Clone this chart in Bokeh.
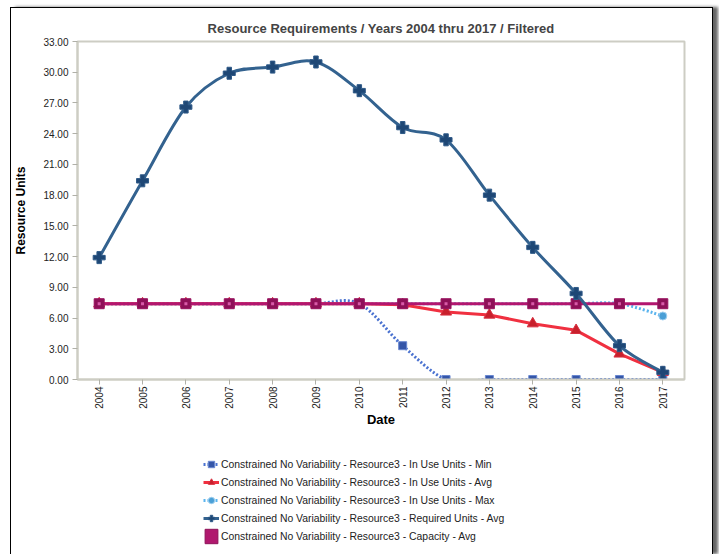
import math
from bokeh.plotting import figure
from bokeh.layouts import column
from bokeh.models import Range1d, FixedTicker, Legend, LegendItem
from bokeh.embed import file_html
from bokeh.resources import INLINE

years = [2004, 2005, 2006, 2007, 2008, 2009, 2010, 2011, 2012, 2013, 2014, 2015, 2016, 2017]
in_use_min = [7.4, 7.4, 7.4, 7.4, 7.4, 7.4, 7.4, 3.3, 0.0, 0.0, 0.0, 0.0, 0.0, 0.0]
in_use_avg = [7.4, 7.4, 7.4, 7.4, 7.4, 7.4, 7.4, 7.3, 6.6, 6.3, 5.45, 4.8, 2.5, 0.7]
in_use_max = [7.4, 7.4, 7.4, 7.4, 7.4, 7.4, 7.4, 7.4, 7.4, 7.4, 7.4, 7.4, 7.4, 6.2]
required_avg = [11.9, 19.4, 26.6, 29.9, 30.5, 31.0, 28.2, 24.6, 23.4, 18.0, 12.9, 8.4, 3.3, 0.7]
capacity_avg = [7.4] * 14

y_ticks = [0, 3, 6, 9, 12, 15, 18, 21, 24, 27, 30, 33]
y_tick_labels = ["0.00", "3.00", "6.00", "9.00", "12.00", "15.00", "18.00",
                 "21.00", "24.00", "27.00", "30.00", "33.00"]
x_tick_labels = [str(y) for y in years]

names = [
    "Constrained No Variability - Resource3 - In Use Units - Min",
    "Constrained No Variability - Resource3 - In Use Units - Avg",
    "Constrained No Variability - Resource3 - In Use Units - Max",
    "Constrained No Variability - Resource3 - Required Units - Avg",
    "Constrained No Variability - Resource3 - Capacity - Avg",
]
title_text = "Resource Requirements / Years 2004 thru 2017 / Filtered"

FONT = "Liberation Sans"
GRID = "#CDCDC4"

STYLE = {
    "min": dict(line=dict(line_color="#4A72D0", line_width=3, line_dash="2 2"),
                pts=dict(marker="square", size=8, fill_color="#3556A8", line_color="#6A88D0", line_width=1)),
    "max": dict(line=dict(line_color="#5AB4EE", line_width=3, line_dash="2 2"),
                pts=dict(marker="circle", size=8, fill_color="#4A9FD6", line_color="#9FD0F0", line_width=1)),
    "avg": dict(line=dict(line_color="#F03040", line_width=3),
                pts=dict(marker="triangle", size=11, fill_color="#C8202C", line_color="#D83040", line_width=1)),
    "cap": dict(line=dict(line_color="#B3166F", line_width=3),
                pts=dict(marker="square", size=10, fill_color="#8E1058", line_color="#9A1460", line_width=1)),
    "req": dict(line=dict(line_color="#33628F", line_width=3),
                pts=dict(marker="plus", size=12, fill_color="#1E4775", line_color="#2F5A88", line_width=1)),
}


def cardinal(xs, ys):
    """Bezier control points of a cardinal (Catmull-Rom) spline through the points."""
    n = len(xs)
    x0, y0, x1, y1, cx0, cy0, cx1, cy1 = [], [], [], [], [], [], [], []
    for i in range(n - 1):
        a = max(i - 1, 0)
        d = min(i + 2, n - 1)
        x0.append(xs[i]); y0.append(ys[i])
        x1.append(xs[i + 1]); y1.append(ys[i + 1])
        cx0.append(xs[i] + (xs[i + 1] - xs[a]) / 6.0)
        cy0.append(ys[i] + (ys[i + 1] - ys[a]) / 6.0)
        cx1.append(xs[i + 1] - (xs[d] - xs[i]) / 6.0)
        cy1.append(ys[i + 1] - (ys[d] - ys[i]) / 6.0)
    return dict(x0=x0, y0=y0, x1=x1, y1=y1, cx0=cx0, cy0=cy0, cx1=cx1, cy1=cy1)


def draw_series(fig):
    r = {}
    r["min"] = [fig.bezier(**cardinal(years, in_use_min), **STYLE["min"]["line"]),
                fig.scatter(years, in_use_min, **STYLE["min"]["pts"])]
    r["max"] = [fig.bezier(**cardinal(years, in_use_max), **STYLE["max"]["line"]),
                fig.scatter(years, in_use_max, **STYLE["max"]["pts"])]
    r["avg"] = [fig.line(years, in_use_avg, **STYLE["avg"]["line"]),
                fig.scatter(years, in_use_avg, **STYLE["avg"]["pts"])]
    r["cap"] = [fig.line(years, capacity_avg, **STYLE["cap"]["line"]),
                fig.scatter(years, capacity_avg, **STYLE["cap"]["pts"]),
                fig.scatter(years, capacity_avg, marker="square", size=3,
                            fill_color="#D85AA8", line_color=None)]
    r["req"] = [fig.bezier(**cardinal(years, required_avg), **STYLE["req"]["line"]),
                fig.scatter(years, required_avg, **STYLE["req"]["pts"])]
    return r


# ---------------- main chart ----------------
p = figure(width=701, height=421, output_backend="svg", toolbar_location=None,
           x_range=Range1d(2003.5, 2017.5), y_range=Range1d(0, 33),
           min_border_left=66, min_border_right=28, min_border_top=33, min_border_bottom=50)

p.title.text = title_text
p.title.align = "center"
p.title.text_font = FONT
p.title.text_font_size = "13px"
p.title.text_font_style = "bold"
p.title.standoff = 12

p.xgrid.visible = False
p.ygrid.visible = False
p.outline_line_color = GRID
p.outline_line_width = 2

for ax in (p.xaxis[0], p.yaxis[0]):
    ax.axis_line_color = GRID
    ax.axis_line_width = 2
    ax.major_tick_line_color = "#B0B0A8"
    ax.major_tick_out = 5
    ax.major_tick_in = 0
    ax.minor_tick_line_color = None
    ax.major_label_text_font = FONT
    ax.major_label_text_font_size = "10px"
    ax.major_label_text_color = "#222222"
    ax.axis_label_text_font = FONT
    ax.axis_label_text_font_style = "bold"
    ax.axis_label_text_color = "#000000"

p.yaxis[0].ticker = FixedTicker(ticks=y_ticks)
p.yaxis[0].major_label_overrides = dict(zip(y_ticks, y_tick_labels))
p.yaxis[0].major_label_standoff = 4
p.yaxis[0].axis_label = "Resource Units"
p.yaxis[0].axis_label_text_font_size = "12px"
p.yaxis[0].axis_label_standoff = 12

p.xaxis[0].ticker = FixedTicker(ticks=years)
p.xaxis[0].major_label_overrides = dict(zip(years, x_tick_labels))
p.xaxis[0].major_label_orientation = math.pi / 2
p.xaxis[0].major_label_standoff = 2
p.xaxis[0].axis_label = "Date"
p.xaxis[0].axis_label_text_font_size = "13px"
p.xaxis[0].axis_label_standoff = 0

draw_series(p)

# ---------------- legend strip ----------------
lg = figure(width=701, height=125, output_backend="svg", toolbar_location=None,
            x_range=Range1d(0, 1), y_range=Range1d(0, 1),
            x_axis_type=None, y_axis_type=None,
            min_border_left=0, min_border_right=0, min_border_top=0, min_border_bottom=0)
lg.xgrid.visible = False
lg.ygrid.visible = False
lg.outline_line_color = None

lr = draw_series(lg)
cap_box = lg.quad(left=years, right=years, bottom=capacity_avg, top=capacity_avg,
                  fill_color="#B0186E", line_color="#8E1058", line_width=1)
for group in lr.values():
    for rr in group:
        rr.visible = False
cap_box.visible = False

legend = Legend(items=[
    LegendItem(label=names[0], renderers=lr["min"]),
    LegendItem(label=names[1], renderers=lr["avg"][:2]),
    LegendItem(label=names[2], renderers=lr["max"]),
    LegendItem(label=names[3], renderers=lr["req"]),
    LegendItem(label=names[4], renderers=[cap_box]),
], location=(126, 9), orientation="vertical")
legend.padding = 0
legend.margin = 0
legend.spacing = 0
legend.glyph_width = 16
legend.glyph_height = 18
legend.label_height = 18
legend.label_standoff = 2
legend.label_text_font = FONT
legend.label_text_font_size = "10.4px"
legend.label_text_color = "#222222"
legend.border_line_color = None
legend.background_fill_alpha = 0
lg.add_layout(legend, "center")

layout = column(p, lg, spacing=0)
layout.styles = {"border-top": "1px solid #000", "border-left": "1px solid #000",
                 "border-right": "1px solid #000", "margin-left": "10px", "margin-top": "7px",
                 "box-shadow": "5px 0 3px #666"}

open("out.html", "w").write(file_html(layout, INLINE))
